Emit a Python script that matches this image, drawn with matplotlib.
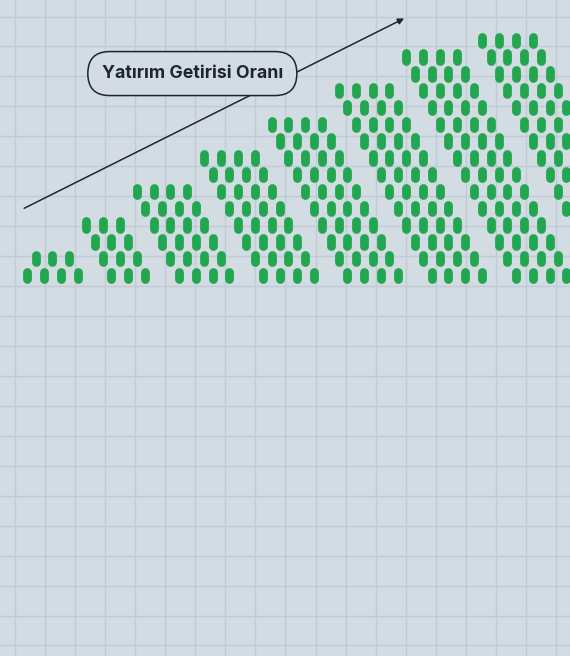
import numpy as np
import matplotlib
matplotlib.use("Agg")
import matplotlib.pyplot as plt
from matplotlib.collections import LineCollection
from matplotlib.patches import FancyBboxPatch

# groups of pills on a staggered lattice: first column, columns, rows
group_start = [0, 5, 9, 14, 19, 24, 29, 34]
group_cols = [4, 3, 4, 4, 4, 4, 4, 4]
group_rows = [2, 4, 6, 8, 10, 12, 14, 15]
# (group, row, column) cells that are left empty
skipped = [(0, 1, 0)]

# trend arrow and its label (lattice units)
trend_start = (-0.18, 4.0)
trend_end = (22.37, 15.3)
label = "Yatırım Getirisi Oranı"
label_pos = (9.8, 12.02)

bg = "#d3dce3"
grid_c = "#c1cbd4"
green = "#22a64f"
dark = "#1e2532"

W, H = 570, 656
px_x, px_y = 16.85, 16.8      # lattice pitch in pixels
org_x, org_y = 27.2, 275.5    # pixel position of lattice (0, 0)

fig = plt.figure(figsize=(W / 100, H / 100), dpi=100)
fig.patch.set_facecolor(bg)

# background grid paper
gax = fig.add_axes([0, 0, 1, 1])
gax.set_xlim(0, W)
gax.set_ylim(H, 0)
gax.set_facecolor(bg)
gax.set_xticks(np.arange(15, W, 30.05))
gax.set_yticks(np.arange(16.5, H, 29.95))
gax.grid(True, color=grid_c, lw=1.0)
gax.tick_params(length=0, labelbottom=False, labelleft=False)
for s in gax.spines.values():
    s.set_visible(False)

ax = fig.add_axes([0, 0, 1, 1])
ax.patch.set_alpha(0)
ax.set_xlim(-org_x / px_x, (W - org_x) / px_x)
ax.set_ylim((org_y - H) / px_y, org_y / px_y)
ax.axis("off")

xs, ys = [], []
for g, (j0, nc, nr) in enumerate(zip(group_start, group_cols, group_rows)):
    for k in range(nr):
        for c in range(nc):
            if (g, k, c) in skipped:
                continue
            xs.append(j0 + c - k / 2)
            ys.append(k)

pill_w = 8.8
half = (16.2 - pill_w) / 2 / px_y
segs = [[(x, y - half), (x, y + half)] for x, y in zip(xs, ys)]
pills = LineCollection(segs, colors=green, linewidths=pill_w * 72 / 100,
                       capstyle="round", zorder=2)
ax.add_collection(pills)

ax.annotate("", xy=trend_end, xytext=trend_start,
            arrowprops=dict(arrowstyle="-|>", color=dark, lw=1.1,
                            mutation_scale=9, shrinkA=0, shrinkB=0),
            zorder=3)

bw, bh = 209 / px_x, 44 / px_y
box = FancyBboxPatch((label_pos[0] - bw / 2, label_pos[1] - bh / 2), bw, bh,
                     boxstyle="round,pad=0,rounding_size=1.3",
                     fc=bg, ec=dark, lw=1.1, zorder=4)
ax.add_patch(box)
ax.text(label_pos[0], label_pos[1], label, ha="center", va="center",
        fontsize=12.8, fontweight="bold", family=["Inter", "DejaVu Sans"],
        color=dark, zorder=5)

fig.savefig("out.png", dpi=100, facecolor=bg)
